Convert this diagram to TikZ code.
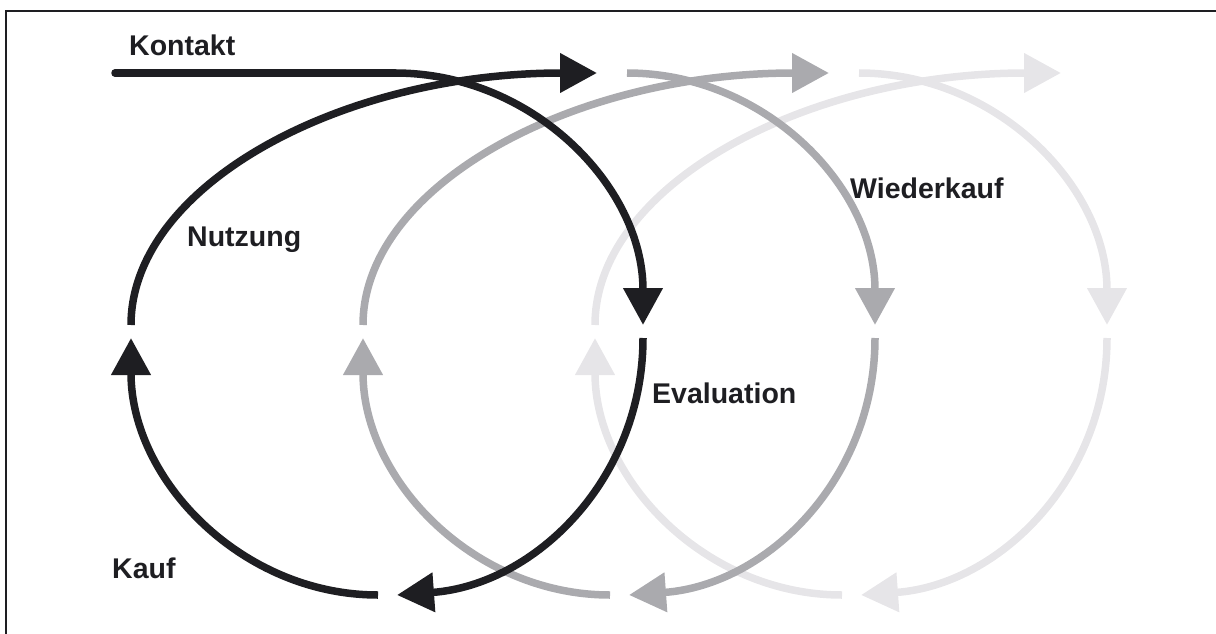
\documentclass[tikz,border=0pt]{standalone}
\usepackage{fontspec}
\setmainfont{Liberation Sans}
\usetikzlibrary{arrows.meta}
\definecolor{cblack}{HTML}{1E1E22}
\definecolor{cgray}{HTML}{AAAAAE}
\definecolor{clight}{HTML}{E6E5E8}
\begin{document}
\begin{tikzpicture}[x=1pt,y=-1pt,
  loopline/.style={line width=7.5pt, -{Triangle[length=37pt,width=38pt]}},
  plainline/.style={line width=7.5pt},
  lbl/.style={font=\fontsize{28.5}{34}\selectfont\bfseries, inner sep=0pt, anchor=base west, text=cblack}]
\useasboundingbox (0,0) rectangle (1216,634);
\draw[cblack, line width=2pt] (6,634) -- (6,11) -- (1216,11);

\foreach \i/\s/\c in {2/464/clight, 1/232/cgray, 0/0/cblack} {
  \begin{scope}[xshift=\s pt]
    \coordinate (ka\i) at (395,73);
    \coordinate (kb\i) at (643,325);
    \coordinate (ea\i) at (643,338);
    \coordinate (eb\i) at (397,595);
    \coordinate (ua\i) at (378,595);
    \coordinate (ub\i) at (131,338);
    \coordinate (na\i) at (131,325);
    \coordinate (nb\i) at (597,73);
    \draw[loopline,\c] (ka\i) .. controls (532,73) and (643,186) .. (kb\i);
    \draw[loopline,\c] (ea\i) .. controls (643,479) and (535,585) .. (eb\i);
    \draw[loopline,\c] (ua\i) .. controls (242,595) and (131,480) .. (ub\i);
    \draw[loopline,\c] (na\i) .. controls (131,186) and (340,73) .. (nb\i);
  \end{scope}
}
\coordinate (kl) at (115,73);
\draw[plainline, cblack, line cap=round] (kl) -- (ka0);

\node[lbl] (kontakt) at (129,56) {Kontakt};
\node[lbl] (nutzung) at (187,246) {Nutzung};
\node[lbl] (evaluation) at (652,403) {Evaluation};
\node[lbl] (wiederkauf) at (850,198) {Wiederkauf};
\node[lbl] (kauf) at (112,578) {Kauf};
\end{tikzpicture}
\end{document}
